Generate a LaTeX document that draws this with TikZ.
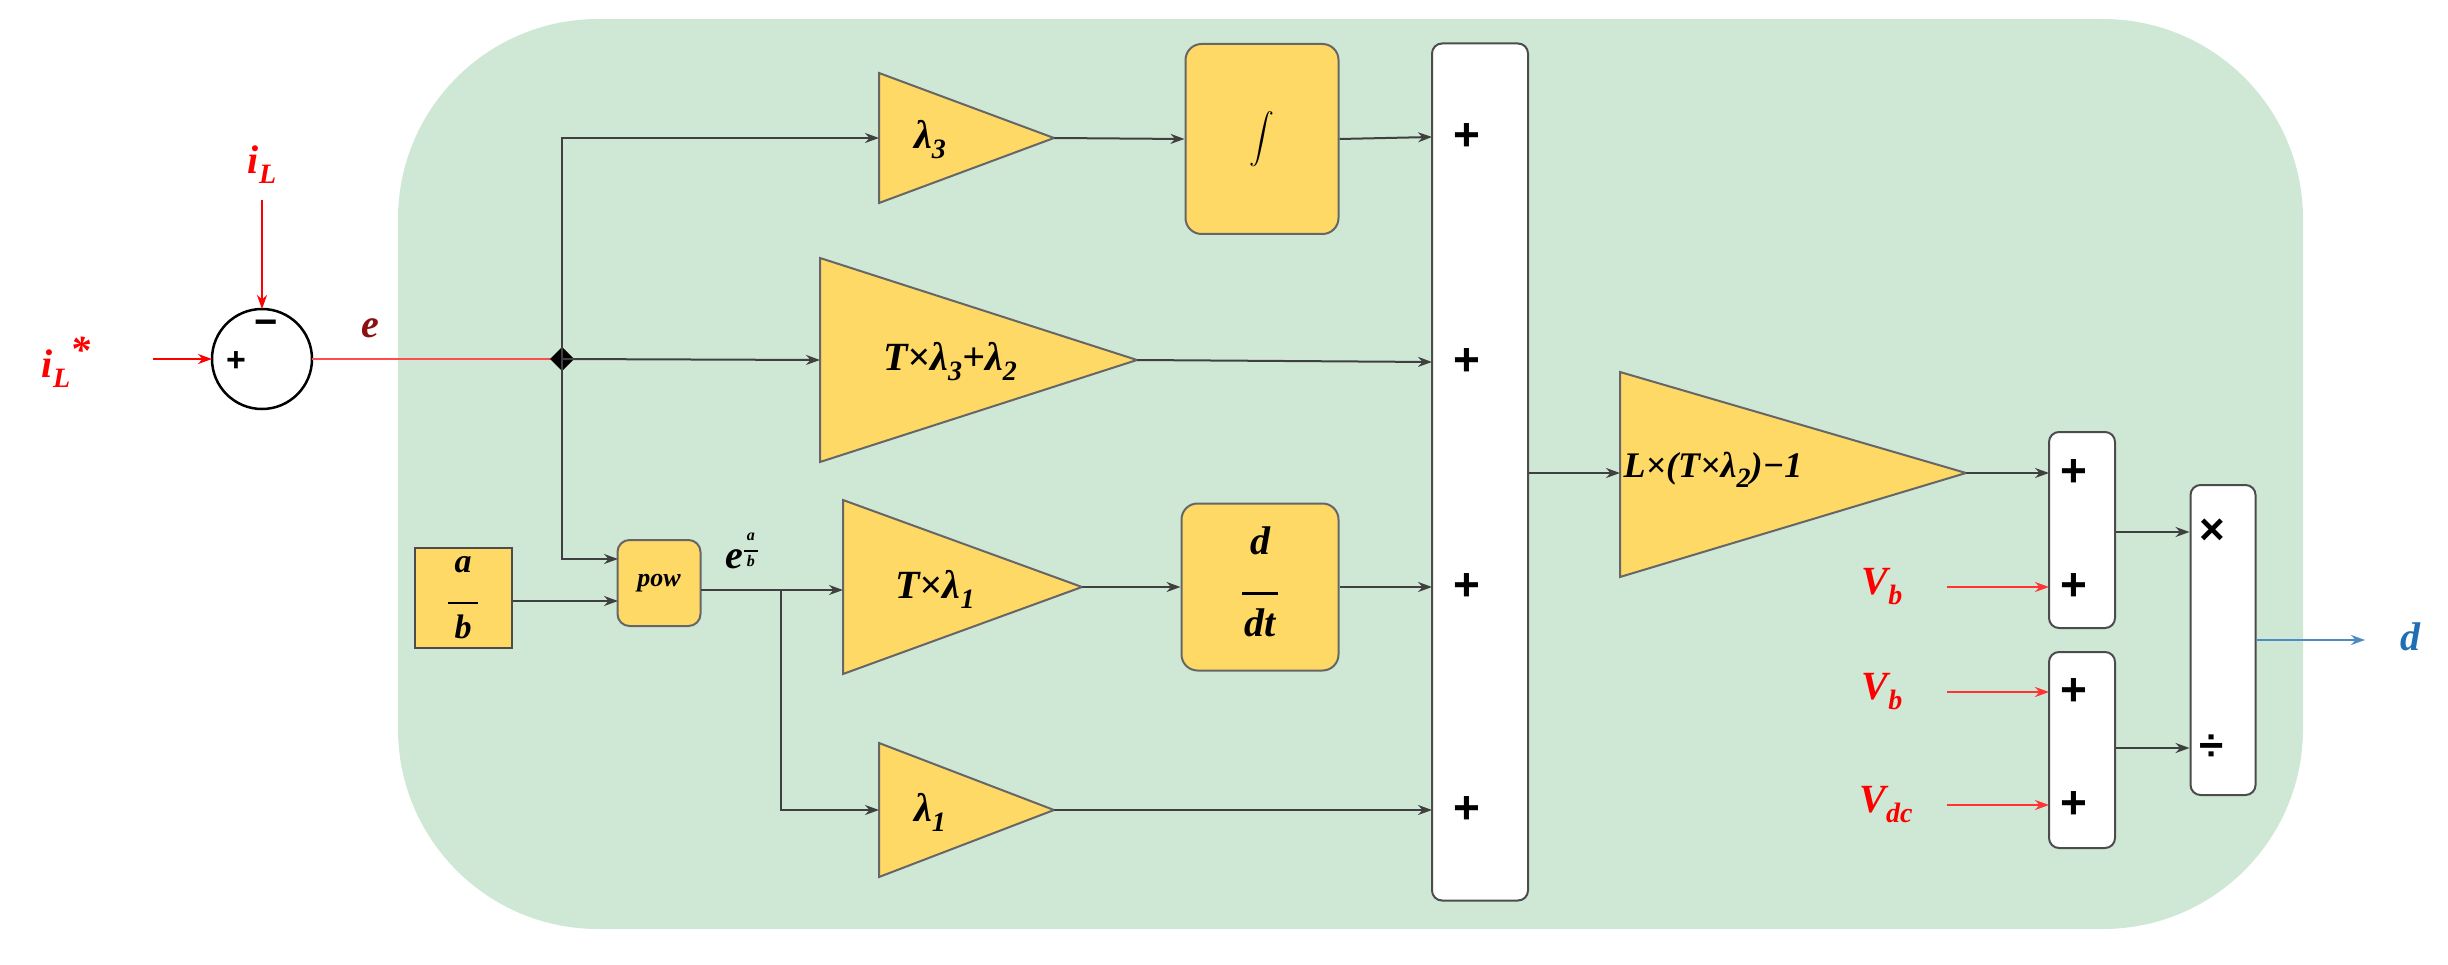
\documentclass[tikz,border=0pt]{standalone}
\usepackage{amsmath}
\usepackage{fontspec}
\setmainfont{Liberation Serif}
\newfontfamily\sansf{Liberation Sans}
\usetikzlibrary{arrows.meta}
\definecolor{bg}{HTML}{CFE8D5}
\definecolor{blk}{HTML}{FFD966}
\definecolor{dred}{HTML}{8B1010}
\definecolor{dblue}{HTML}{1F6FB5}
\newcommand{\sbx}[1]{\raisebox{-10pt}{\fontsize{28}{30}\selectfont #1}}
\newcommand{\fracx}[2]{\begin{tabular}{@{}c@{}}#1\\[-4pt]\rule{0.9em}{2.5pt}\\[-2pt]#2\end{tabular}}
\begin{document}
\begin{tikzpicture}[x=1pt,y=-1pt,
  wire/.style={draw=black!75,line width=2pt,-{Stealth[length=14pt,width=10pt]}},
  rwire/.style={draw=red,line width=2pt,-{Stealth[length=14pt,width=10pt]}},
  ybox/.style={draw=black!60,fill=blk,line width=2pt,rounded corners=16pt},
  tri/.style={draw=black!60,fill=blk,line width=2pt},
  wbox/.style={draw=black!70,fill=white,line width=2pt,rounded corners=10pt},
  lab/.style={font=\fontsize{40}{44}\selectfont\bfseries\itshape},
  sgn/.style={font=\fontsize{46}{50}\selectfont\sansf\bfseries},
  rlab/.style={lab,text=red}]
\useasboundingbox (0,0) rectangle (2448,965);
\fill[bg,rounded corners=200pt] (398,19) rectangle (2303,929);
% summing circle
\draw[line width=2.5pt,fill=white] (262,359) circle (50);
\node[font=\fontsize{34}{36}\selectfont\sansf\bfseries] at (236,362) {+};
\node[font=\fontsize{40}{40}\selectfont\sansf\bfseries] at (266,328) {−};
\coordinate (sumL) at (212,359); \coordinate (sumT) at (262,309); \coordinate (sumR) at (312,359);
\node[rlab] (iLs) at (66,362) {i\sbx{L}\raisebox{14pt}{*}};
\coordinate (iLsE) at (153,359);
\draw[rwire] (iLsE) -- (sumL);
\node[rlab] (iL) at (262,165) {i\sbx{L}};
\coordinate (iLE) at (262,200);
\draw[rwire] (iLE) -- (sumT);
\node[lab,text=dred] (e) at (370,328) {e};
\coordinate (J) at (562,359);
\draw[red!70,line width=2.5pt] (sumR) -- (J);
\fill[black] (J) +(-12,0) -- +(0,-12) -- +(12,0) -- +(0,12) -- cycle;
% lambda3
\draw[tri] (879,73) -- (1054,138) -- (879,203) -- cycle;
\coordinate (t3L) at (879,138); \coordinate (t3R) at (1054,138);
\node[lab] (t3) at (930,140) {λ\sbx{3}};
\node[ybox,minimum width=153pt,minimum height=190pt] (int) at (1262,139) {};
\node[font=\fontsize{64}{64}\selectfont] at (int) {$\displaystyle\int$};
\draw[wire] (J) |- (t3L);
\draw[wire] (t3R) -- (int.west);
% middle
\draw[tri] (820,258) -- (1137,360) -- (820,462) -- cycle;
\coordinate (t2L) at (820,360); \coordinate (t2R) at (1137,360);
\node[lab] (t2) at (950,362) {T×λ\sbx{3}+λ\sbx{2}};
\draw[wire] (J) -- (t2L);
% big sum
\node[wbox,minimum width=96pt,minimum height=857pt] (S) at (1480,472) {};
\foreach \yy/\nm in {137/p1,362/p2,587/p3,810/p4}{\node[sgn] (\nm) at (1467,\yy) {+}; \coordinate (\nm i) at (1432,\yy);}
\draw[wire] (int.east) -- (p1i);
\draw[wire] (t2R) -- (p2i);
% pow
\node[ybox,rounded corners=12pt,minimum width=83pt,minimum height=86pt] (pow) at (659,583) {};
\node[font=\fontsize{26}{28}\selectfont\bfseries\itshape] at (pow) {pow};
\node[draw=black!70,fill=blk,line width=2pt,minimum width=97pt,minimum height=100pt] (ab) at (463,598) {};
\node[font=\fontsize{34}{36}\selectfont\bfseries\itshape] at (ab) {\fracx{a}{b}};
\coordinate (pw1) at (618,559); \coordinate (pw2) at (618,601);
\draw[wire] (J) |- (pw1);
\draw[wire] (ab.east |- pw2) -- (pw2);
\node[lab] (eab) at (742,550) {e\raisebox{14pt}{\fontsize{16}{16}\selectfont\fracx{a}{b}}};
\coordinate (powR) at (701,590); \coordinate (B) at (781,590);
% T x lambda1
\draw[tri] (843,500) -- (1082,587) -- (843,674) -- cycle;
\coordinate (t1L) at (843,590); \coordinate (t1R) at (1082,587);
\node[lab] (t1) at (935,589) {T×λ\sbx{1}};
\draw[wire] (powR) -- (t1L);
\node[ybox,minimum width=157pt,minimum height=167pt] (ddt) at (1260,587) {};
\node[font=\fontsize{40}{44}\selectfont\bfseries\itshape] at (ddt) {\fracx{d}{dt}};
\draw[wire] (t1R) -- (ddt.west);
\draw[wire] (ddt.east) -- (p3i);
% lambda1
\draw[tri] (879,743) -- (1054,810) -- (879,877) -- cycle;
\coordinate (l1L) at (879,810); \coordinate (l1R) at (1054,810);
\node[lab] (l1) at (930,812) {λ\sbx{1}};
\draw[wire] (B) |- (l1L);
\draw[wire] (l1R) -- (p4i);
% L triangle
\draw[tri] (1620,372) -- (1966,473) -- (1620,577) -- cycle;
\coordinate (tLL) at (1620,473); \coordinate (tLR) at (1966,473);
\node[font=\fontsize{36}{40}\selectfont\bfseries\itshape,anchor=west] (tL) at (1620,470) {L×(T×λ\sbx{2})−1};
\draw[wire] (S.east |- tLL) -- (tLL);
% small sums
\node[wbox,minimum width=66pt,minimum height=196pt] (S1) at (2082,530) {};
\node[wbox,minimum width=66pt,minimum height=196pt] (S2) at (2082,750) {};
\node[wbox,minimum width=65pt,minimum height=310pt] (M) at (2223,640) {};
\foreach \yy/\nm in {473/a1,587/a2,692/b1,805/b2}{\node[sgn] (\nm) at (2074,\yy) {+}; \coordinate (\nm i) at (2049,\yy);}
\node[font=\fontsize{44}{44}\selectfont\sansf\bfseries] (mx) at (2212,532) {×};
\node[font=\fontsize{44}{44}\selectfont\sansf\bfseries] (dv) at (2212,748) {÷};
\draw[wire] (tLR) -- (a1i);
\draw[wire] (S1.east |- mx) -- (M.west |- mx);
\draw[wire] (S2.east |- dv) -- (M.west |- dv);
\node[rlab] (vb1) at (1882,587) {V\sbx{b}};
\node[rlab] (vb2) at (1882,692) {V\sbx{b}};
\node[rlab] (vdc) at (1886,805) {V\sbx{dc}};
\foreach \n/\t in {vb1/a2i,vb2/b1i,vdc/b2i}{\coordinate (\n s) at (1947,0); \draw[rwire,draw=red!80] (\n s |- \t) -- (\t);}
\node[lab,text=dblue] (d) at (2410,637) {d};
\coordinate (dE) at (2365,640);
\draw[wire,draw=dblue!80] (M.east |- dE) -- (dE);
\end{tikzpicture}
\end{document}
